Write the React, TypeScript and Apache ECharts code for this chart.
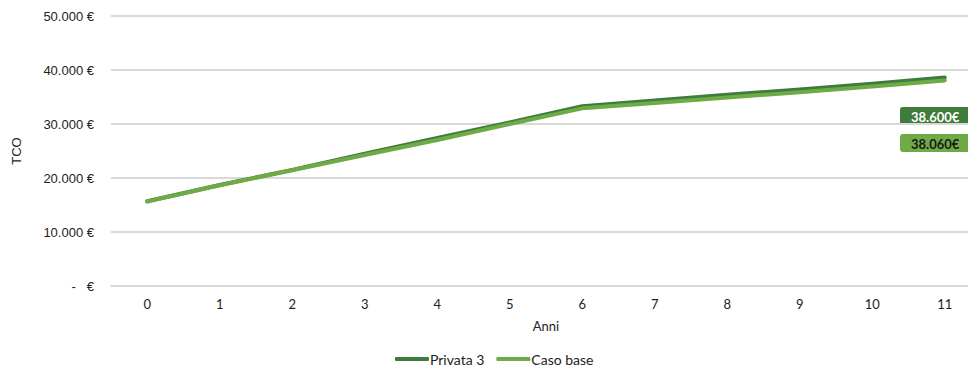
import React, { useEffect, useRef } from "react";
import * as echarts from "echarts";

const anni = ["0", "1", "2", "3", "4", "5", "6", "7", "8", "9", "10", "11"];
const privata3 = [15700, 18700, 21500, 24500, 27400, 30300, 33300, 34350, 35400, 36400, 37450, 38600];
const casoBase = [15650, 18650, 21450, 24250, 27050, 30000, 32900, 33900, 34900, 35900, 36950, 38060];
const seriesNames = ["Privata 3", "Caso base"];
const colors = ["#3E7B3C", "#6EAB47"];

const fmtThousands = (v: number) =>
  Math.round(v).toString().replace(/\B(?=(\d{3})+(?!\d))/g, ".");

export default function App() {
  const ref = useRef<HTMLDivElement>(null);
  useEffect(() => {
    if (!ref.current) return;
    const chart = echarts.init(ref.current, undefined, { renderer: "svg" });
    const lastP = privata3[privata3.length - 1];
    const lastC = casoBase[casoBase.length - 1];
    chart.setOption({
      animation: false,
      grid: { left: 111, top: 16, bottom: 85, right: 0 },
      legend: {
        bottom: 0,
        left: 390,
        itemGap: 12,
        itemWidth: 34,
        itemHeight: 4,
        icon: "roundRect",
        textStyle: { fontFamily: "Lato", fontSize: 14, color: "#222", padding: [0, 0, 0, -4] },
        data: seriesNames,
      },
      xAxis: {
        type: "category",
        data: anni,
        boundaryGap: true,
        name: "Anni",
        nameLocation: "middle",
        nameGap: 33,
        nameTextStyle: { fontFamily: "Lato", fontSize: 13, color: "#222" },
        axisLine: { lineStyle: { color: "#d9d9d9", width: 2 } },
        axisTick: { show: false },
        axisLabel: { fontFamily: "Lato", fontSize: 13, color: "#222", margin: 11 },
      },
      yAxis: {
        type: "value",
        min: 0,
        max: 50000,
        interval: 10000,
        name: "TCO",
        nameLocation: "middle",
        nameGap: 88,
        nameTextStyle: { fontFamily: "Liberation Sans", fontSize: 13, color: "#222" },
        axisLine: { show: false },
        axisTick: { show: false },
        splitLine: { lineStyle: { color: "#d9d9d9", width: 2 } },
        axisLabel: {
          fontFamily: "Liberation Sans",
          fontSize: 13,
          color: "#222",
          margin: 17,
          formatter: (v: number) => (v === 0 ? "-   €" : fmtThousands(v) + " €"),
        },
      },
      series: [
        {
          name: seriesNames[0],
          type: "line",
          data: privata3,
          symbol: "none",
          lineStyle: { color: colors[0], width: 4, cap: "round", join: "round" },
          itemStyle: { color: colors[0] },
          z: 2,
        },
        {
          name: seriesNames[1],
          type: "line",
          data: casoBase,
          symbol: "none",
          lineStyle: { color: colors[1], width: 4, cap: "round", join: "round" },
          itemStyle: { color: colors[1] },
          z: 3,
        },
      ],
      graphic: [
        {
          type: "group",
          left: 900,
          top: 107,
          children: [
            { type: "rect", shape: { x: 0, y: 0, width: 76, height: 18, r: 3 }, style: { fill: colors[0] } },
            {
              type: "text",
              x: 11,
              y: 9.5,
              style: {
                text: fmtThousands(lastP) + "€",
                fill: "#ffffff",
                font: "bold 13px Lato",
                verticalAlign: "middle",
              },
            },
          ],
        },
        {
          type: "group",
          left: 900,
          top: 134,
          children: [
            { type: "rect", shape: { x: 0, y: 0, width: 76, height: 18, r: 3 }, style: { fill: colors[1] } },
            {
              type: "text",
              x: 11,
              y: 9.5,
              style: {
                text: fmtThousands(lastC) + "€",
                fill: "#1a1a1a",
                font: "bold 13px Lato",
                verticalAlign: "middle",
              },
            },
          ],
        },
      ],
    });
    return () => chart.dispose();
  }, []);
  return (
    <div style={{ position: "absolute", left: 0, top: 0, width: 968, height: 371, overflow: "hidden" }}>
      <div ref={ref} style={{ width: 981, height: 371 }} />
    </div>
  );
}
